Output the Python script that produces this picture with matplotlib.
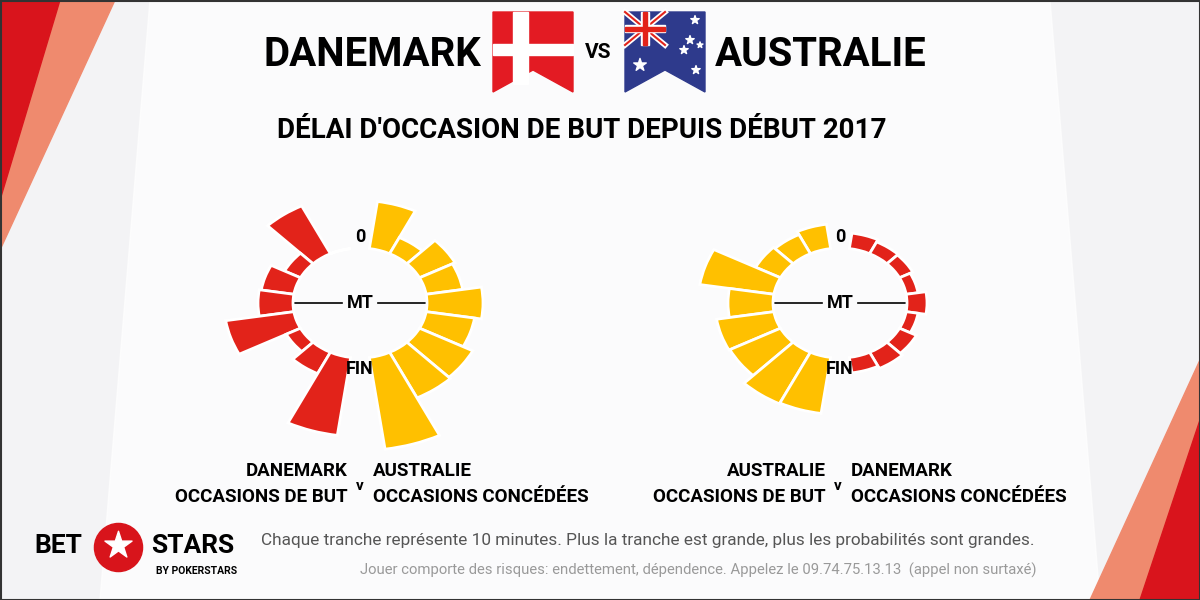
import numpy as np
import matplotlib
matplotlib.use("Agg")
import matplotlib.pyplot as plt
from matplotlib.patches import Polygon, Rectangle

COND = "Roboto"

# ---- data (10-minute slices, 0 -> 90 min) ----
slices = ["0-10", "10-20", "20-30", "30-40", "40-50", "50-60", "60-70", "70-80", "80-90"]
den_scored = [0, 65, 18, 33, 35, 69, 16, 29, 96]
aus_conceded = [58, 22, 40, 37, 56, 49, 60, 62, 113]
aus_scored = [30, 26, 28, 75, 45, 58, 57, 70, 69]
den_conceded = [19, 16, 15, 12, 20, 12, 19, 22, 19]

RED = "#E2231A"
YEL = "#FFC000"
INNER = 67

fig = plt.figure(figsize=(12, 6), dpi=100)
bg = fig.add_axes([0, 0, 1, 1])
bg.set_xlim(0, 1200); bg.set_ylim(600, 0); bg.axis("off")
bg.add_patch(Rectangle((0, 0), 1200, 600, color="#f3f3f5", zorder=0))
bg.add_patch(Polygon([[150, 0], [1050, 0], [1100, 600], [100, 600]], color="white", alpha=0.7, zorder=0))
bg.add_patch(Polygon([[0, 0], [115, 0], [0, 250]], color="#ef8a6e", zorder=1))
bg.add_patch(Polygon([[0, 0], [60, 0], [0, 200]], color="#d9141c", zorder=1))
bg.add_patch(Polygon([[1200, 600], [1090, 600], [1200, 360]], color="#ef8a6e", zorder=1))
bg.add_patch(Polygon([[1200, 600], [1140, 600], [1200, 420]], color="#d9141c", zorder=1))
bg.add_patch(Rectangle((0.5, 0.5), 1199, 599, fill=False, ec="#333", lw=1.5, zorder=5))

# flags (banner shape)
def banner(x0, color):
    return Polygon([[x0, 12], [x0 + 80, 12], [x0 + 80, 92], [x0 + 40, 70], [x0, 92]], color=color, zorder=2)
bg.add_patch(banner(493, "#E31B23"))
bg.add_patch(Rectangle((513, 12), 15, 72, color="white", zorder=3))
bg.add_patch(Rectangle((493, 44), 80, 11, color="white", zorder=3))
bg.add_patch(banner(625, "#2E3A8C"))
bg.plot([625, 665], [12, 45], color="white", lw=4, zorder=3)
bg.plot([625, 665], [45, 12], color="white", lw=4, zorder=3)
bg.plot([625, 665], [12, 45], color=RED, lw=1.5, zorder=3)
bg.plot([625, 665], [45, 12], color=RED, lw=1.5, zorder=3)
bg.add_patch(Rectangle((625, 25), 40, 7, color="white", zorder=3))
bg.add_patch(Rectangle((641, 12), 8, 33, color="white", zorder=3))
bg.add_patch(Rectangle((625, 26.5), 40, 4, color=RED, zorder=4))
bg.add_patch(Rectangle((643, 12), 4, 33, color=RED, zorder=4))
bg.scatter([640, 690, 695, 684, 700, 696], [65, 40, 20, 50, 45, 70], marker="*", s=[90, 40, 40, 40, 20, 40], color="white", zorder=4)

# titles
fig.text(372, 600 - 55, "DANEMARK", transform=None, ha="center", va="center", fontsize=29, fontweight="bold", family=COND)
fig.text(598, 600 - 52, "VS", transform=None, ha="center", va="center", fontsize=15, fontweight="bold", family=COND)
fig.text(821, 600 - 55, "AUSTRALIE", transform=None, ha="center", va="center", fontsize=29, fontweight="bold", family=COND)
fig.text(582, 600 - 131, "DÉLAI D'OCCASION DE BUT DEPUIS DÉBUT 2017", transform=None, ha="center", va="center",
         fontsize=20, fontweight="bold", family=COND)

# radial charts
n = len(slices)
start, span = np.deg2rad(8), np.deg2rad(164)
step = span / n
centers = start + step * (np.arange(n) + 0.5)

def radial(cx, left_vals, left_col, right_vals, right_col):
    R = 200
    ax = fig.add_axes([(cx - R) / 1200, (297 - R * 0.82) / 600, 2 * R / 1200, 2 * R * 0.82 / 600], projection="polar")
    ax.set_theta_zero_location("N"); ax.set_theta_direction(-1)
    ax.bar(centers, right_vals, width=step, bottom=INNER, color=right_col, edgecolor="white", linewidth=2)
    ax.bar(-centers, left_vals, width=step, bottom=INNER, color=left_col, edgecolor="white", linewidth=2)
    ax.set_ylim(0, R)
    ax.set_aspect("auto")
    ax.axis("off")
    ax.patch.set_alpha(0)
    bg.plot([cx - 66, cx - 18], [303, 303], color="black", lw=1.2, zorder=6)
    bg.plot([cx + 18, cx + 66], [303, 303], color="black", lw=1.2, zorder=6)
    for y, t in [(237, "0"), (303, "MT"), (369, "FIN")]:
        fig.text(cx, y, t, transform=bg.transData, ha="center", va="center", fontsize=13,
                 fontweight="bold", family=COND, zorder=7)

radial(360, den_scored, RED, aus_conceded, YEL)
radial(840, aus_scored, YEL, den_conceded, RED)

def caption(cx, a, b):
    kw = dict(fontsize=13.5, fontweight="bold", family=COND, va="center", zorder=7, linespacing=1.5)
    bg.text(cx - 12, 484, a, ha="right", **kw)
    bg.text(cx, 486, "v", ha="center", fontsize=11, fontweight="bold", family=COND, va="center")
    bg.text(cx + 13, 484, b, ha="left", **kw)

caption(360, "DANEMARK\nOCCASIONS DE BUT", "AUSTRALIE\nOCCASIONS CONCÉDÉES")
caption(838, "AUSTRALIE\nOCCASIONS DE BUT", "DANEMARK\nOCCASIONS CONCÉDÉES")

bg.text(648, 540, "Chaque tranche représente 10 minutes. Plus la tranche est grande, plus les probabilités sont grandes.",
        ha="center", va="center", fontsize=12.4, color="#555", family=COND)
bg.text(698, 570, "Jouer comporte des risques: endettement, dépendence. Appelez le 09.74.75.13.13  (appel non surtaxé)",
        ha="center", va="center", fontsize=10.7, color="#999", family=COND)

# logo
bg.text(58, 546, "BET", ha="center", va="center", fontsize=19, fontweight="bold", family=COND)
bg.text(193, 546, "STARS", ha="center", va="center", fontsize=19, fontweight="bold", family=COND)
bg.scatter([118], [547], s=1200, color="#D8141B", zorder=6)
bg.scatter([118], [545], s=420, marker="*", color="white", zorder=7)
bg.text(197, 571, "BY POKERSTARS", ha="center", va="center", fontsize=7.5, fontweight="bold", family=COND)

fig.savefig("out.png", dpi=100)
